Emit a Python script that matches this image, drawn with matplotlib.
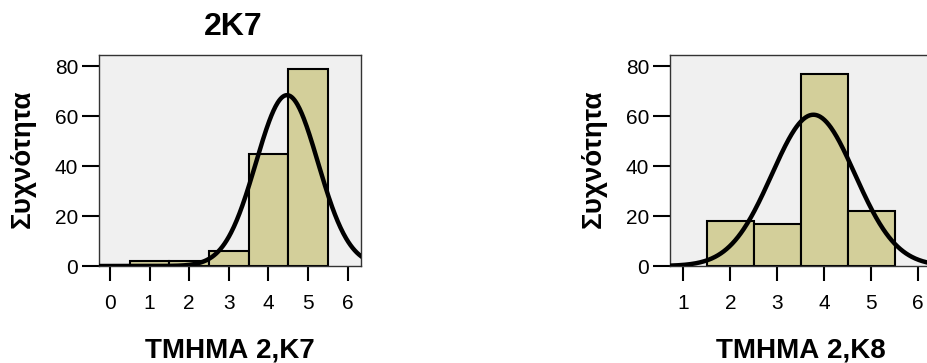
import numpy as np
import matplotlib
matplotlib.use("Agg")
import matplotlib.pyplot as plt

plt.rcParams['font.family'] = ['Liberation Sans', 'DejaVu Sans']

# Data
k7_values = [1, 2, 3, 4, 5]
k7_counts = [2, 2, 6, 45, 79]
k8_values = [2, 3, 4, 5]
k8_counts = [18, 17, 77, 22]
k7_ticks = [0, 1, 2, 3, 4, 5, 6]
k8_ticks = [1, 2, 3, 4, 5, 6]
title_left = "2K7"
xlabel_left = "ΤΜΗΜΑ 2,Κ7"
xlabel_right = "ΤΜΗΜΑ 2,Κ8"
ylabel = "Συχνότητα"

W, H = 928, 363
fig = plt.figure(figsize=(W / 100, H / 100), dpi=100)

bar_color = '#D3CF9A'
bg_color = '#F0F0F0'


def panel(left_px, xlim, values, counts, ticks, xlabel, title=None):
    ax = fig.add_axes([left_px / W, (H - 266) / H, 262 / W, 211 / H])
    ax.set_facecolor(bg_color)
    ax.bar(values, counts, width=1.0, color=bar_color, edgecolor='black',
           linewidth=1.5, zorder=2)
    v = np.array(values, dtype=float)
    c = np.array(counts, dtype=float)
    n = c.sum()
    mu = (v * c).sum() / n
    sd = np.sqrt(((v - mu) ** 2 * c).sum() / (n - 1))
    xs = np.linspace(xlim[0], xlim[1] + 0.5, 400)
    ys = n * 1.0 / (sd * np.sqrt(2 * np.pi)) * np.exp(-0.5 * ((xs - mu) / sd) ** 2)
    ax.plot(xs, ys, color='black', linewidth=3.2, zorder=3, solid_capstyle='round')
    ax.set_xlim(*xlim)
    ax.set_ylim(0, 84.4)
    ax.set_yticks([0, 20, 40, 60, 80])
    ax.set_xticks(ticks)
    for s in ax.spines.values():
        s.set_color('#333333')
        s.set_linewidth(1.0)
    ax.tick_params(axis='y', length=12, width=1.5, pad=3, labelsize=15,
                   direction='out', color='black')
    ax.tick_params(axis='x', length=11, width=1.5, pad=9, labelsize=15,
                   direction='out', color='black')
    cx = (left_px + 131) / W
    fig.text(cx, (H - 357) / H, xlabel, ha='center', va='baseline',
             fontsize=20, fontweight='bold')
    fig.text((left_px - 76) / W, (H - 159) / H, ylabel, rotation=90,
             ha='center', va='center', fontsize=20, fontweight='bold')
    if title:
        fig.text((left_px + 134) / W, (H - 35) / H, title, ha='center',
                 va='baseline', fontsize=23, fontweight='bold')
    return ax


panel(99, (-0.28, 6.34), k7_values, k7_counts, k7_ticks, xlabel_left, title_left)
panel(670, (0.717, 0.717 + 262 / 47), k8_values, k8_counts, k8_ticks, xlabel_right)

fig.savefig('out.png', dpi=100)
